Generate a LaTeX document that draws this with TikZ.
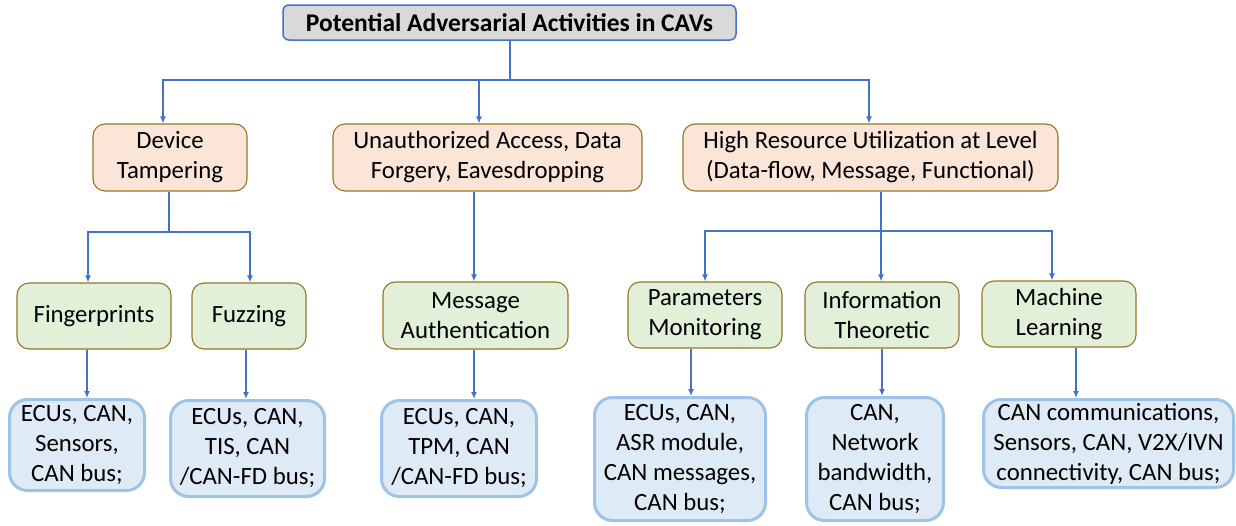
\documentclass[tikz,border=0pt]{standalone}
\usepackage{fontspec}
\setmainfont{Carlito}
\usetikzlibrary{arrows.meta}
\definecolor{lineblue}{HTML}{4472C4}
\definecolor{titlefill}{HTML}{D9D9D9}
\definecolor{orfill}{HTML}{FBE5D6}
\definecolor{grfill}{HTML}{E2F0D9}
\definecolor{gold}{HTML}{957625}
\definecolor{bxfill}{HTML}{DEEBF7}
\definecolor{bxline}{HTML}{9DC3E6}
\tikzset{
  base/.style={inner sep=0pt, align=center, font=\fontsize{24.8}{30}\selectfont},
  titlebox/.style={base, draw=lineblue, fill=titlefill, line width=1.5pt, rounded corners=6pt, font=\fontsize{25.5}{28}\selectfont\bfseries},
  catbox/.style={base, draw=gold, fill=orfill, line width=1.1pt, rounded corners=12pt},
  methbox/.style={base, draw=gold, fill=grfill, line width=1.1pt, rounded corners=12pt},
  tgtbox/.style={base, draw=bxline, fill=bxfill, line width=3pt, rounded corners=18pt},
  conn/.style={draw=lineblue, line width=1.8pt},
  arr/.style={conn, -{Latex[length=7pt,width=6pt]}},
}
\begin{document}
\begin{tikzpicture}[x=1pt,y=-1pt]
\useasboundingbox (0,0) rectangle (1236,525);
% title
\node[titlebox, minimum width=453pt, minimum height=35pt] (title) at (509.5,22.5) {Potential Adversarial Activities in CAVs};
% level 2
\node[catbox, minimum width=154pt, minimum height=67pt] (dt) at (170,157.5) {Device\\Tampering};
\node[catbox, minimum width=309pt, minimum height=67pt] (ua) at (487.5,157.5) {Unauthorized Access, Data\\Forgery, Eavesdropping};
\node[catbox, minimum width=375pt, minimum height=67pt] (hr) at (870.5,157.5) {High Resource Utilization at Level\\(Data-flow, Message, Functional)};
% level 3
\node[methbox, minimum width=154pt, minimum height=66pt] (fp) at (94,316) {Fingerprints};
\node[methbox, minimum width=114pt, minimum height=66pt] (fz) at (249,316) {Fuzzing};
\node[methbox, minimum width=185pt, minimum height=67pt] (ma) at (475.5,315.5) {Message\\Authentication};
\node[methbox, minimum width=154pt, minimum height=66pt] (pm) at (705,315) {Parameters\\Monitoring};
\node[methbox, minimum width=154pt, minimum height=66pt] (it) at (882,315) {Information\\Theoretic};
\node[methbox, minimum width=154pt, minimum height=66pt] (ml) at (1059,314) {Machine\\Learning};
% level 4
\node[tgtbox, minimum width=135pt, minimum height=91pt] (b1) at (77,445) {ECUs, CAN,\\Sensors,\\CAN bus;};
\node[tgtbox, minimum width=154pt, minimum height=96pt] (b2) at (247.5,448.5) {ECUs, CAN,\\TIS, CAN\\/CAN-FD bus;};
\node[tgtbox, minimum width=155pt, minimum height=96pt] (b3) at (459,448.5) {ECUs, CAN,\\TPM, CAN\\/CAN-FD bus;};
\node[tgtbox, minimum width=171pt, minimum height=123pt] (b4) at (680,459) {ECUs, CAN,\\ASR module,\\CAN messages,\\CAN bus;};
\node[tgtbox, minimum width=137pt, minimum height=123pt] (b5) at (875,459) {CAN,\\Network\\bandwidth,\\CAN bus;};
\node[tgtbox, minimum width=250pt, minimum height=88pt] (b6) at (1108.5,443.5) {CAN communications,\\Sensors, CAN, V2X/IVN\\connectivity, CAN bus;};
% connectors: title to level 2
\coordinate (j1) at (510,80);
\draw[conn] (title.south -| j1) -- (j1);
\draw[arr] (j1) -| (dt.north -| 163,0);
\draw[arr] (j1) -| (ua.north -| 479,0);
\draw[arr] (j1) -| (hr.north -| 869,0);
% device tampering
\coordinate (j2) at (169,232);
\draw[conn] (dt.south -| j2) -- (j2);
\draw[arr] (j2) -| (fp.north -| 88,0);
\draw[arr] (j2) -| (fz.north -| 250,0);
% unauthorized access
\draw[arr] (ua.south -| 474,0) -- (ma.north -| 474,0);
% high resource
\coordinate (j3) at (881,231);
\draw[conn] (hr.south -| j3) -- (j3);
\draw[arr] (j3) -| (pm.north);
\draw[arr] (j3) -- (it.north -| j3);
\draw[arr] (j3) -| (ml.north -| 1052,0);
% level 3 to level 4
\draw[arr] (fp.south -| 87,0) -- (b1.north -| 87,0);
\draw[arr] (fz.south -| 246,0) -- (b2.north -| 246,0);
\draw[arr] (ma.south -| 474,0) -- (b3.north -| 474,0);
\draw[arr] (pm.south -| 691,0) -- (b4.north -| 691,0);
\draw[arr] (it.south -| 882,0) -- (b5.north -| 882,0);
\draw[arr] (ml.south -| 1076,0) -- (b6.north -| 1076,0);
\end{tikzpicture}
\end{document}
